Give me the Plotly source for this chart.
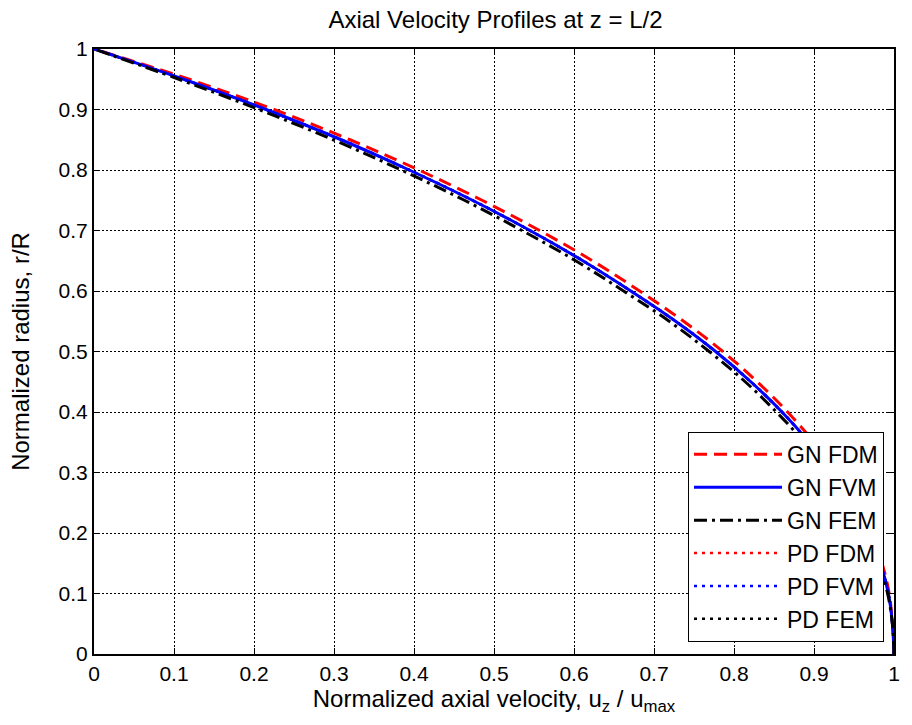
import plotly.graph_objects as go

# Normalized radius positions (r/R)
r_vals = [0.00, 0.05, 0.10, 0.15, 0.20, 0.25, 0.30, 0.35, 0.40, 0.45, 0.50,
          0.55, 0.60, 0.65, 0.70, 0.75, 0.80, 0.85, 0.90, 0.95, 1.00]

# Normalized axial velocity u_z / u_max for each solver
gn_fdm = [1.000, 0.998, 0.994, 0.985, 0.971, 0.953, 0.929, 0.900, 0.867, 0.829, 0.786,
          0.737, 0.682, 0.623, 0.557, 0.485, 0.406, 0.320, 0.225, 0.119, 0.000]
gn_fvm = [1.000, 0.998, 0.993, 0.983, 0.968, 0.949, 0.924, 0.894, 0.860, 0.821, 0.777,
          0.727, 0.671, 0.611, 0.545, 0.473, 0.394, 0.309, 0.215, 0.112, 0.000]
gn_fem = [1.000, 0.998, 0.992, 0.981, 0.965, 0.945, 0.919, 0.888, 0.853, 0.814, 0.769,
          0.719, 0.662, 0.602, 0.535, 0.463, 0.384, 0.299, 0.206, 0.106, 0.000]
pd_fdm = [1.000, 0.998, 0.993, 0.983, 0.968, 0.949, 0.924, 0.894, 0.860, 0.821, 0.777,
          0.727, 0.671, 0.611, 0.545, 0.473, 0.394, 0.309, 0.215, 0.112, 0.000]
pd_fvm = [1.000, 0.998, 0.993, 0.983, 0.968, 0.949, 0.924, 0.894, 0.860, 0.821, 0.777,
          0.727, 0.671, 0.611, 0.545, 0.473, 0.394, 0.309, 0.215, 0.112, 0.000]
pd_fem = [1.000, 0.998, 0.993, 0.983, 0.968, 0.949, 0.924, 0.894, 0.860, 0.821, 0.777,
          0.727, 0.671, 0.611, 0.545, 0.473, 0.394, 0.309, 0.215, 0.112, 0.000]

tick_vals = [0, 0.1, 0.2, 0.3, 0.4, 0.5, 0.6, 0.7, 0.8, 0.9, 1]
tick_text = ["0", "0.1", "0.2", "0.3", "0.4", "0.5", "0.6", "0.7", "0.8", "0.9", "1"]

FONT = "Liberation Sans, Arial, sans-serif"

fig = go.Figure()

# PD profiles (drawn first, underneath the GN curves)
pd_series = [
    ("PD FDM", pd_fdm, "#ff0000", 4),
    ("PD FVM", pd_fvm, "#0000ff", 5),
    ("PD FEM", pd_fem, "#000000", 6),
]
for name, u, color, rank in pd_series:
    fig.add_trace(go.Scatter(
        x=u, y=r_vals, mode="lines", name=name, legendrank=rank,
        line=dict(color=color, width=2.5, dash="3px,5px", shape="spline"),
    ))

gn_series = [
    ("GN FDM", gn_fdm, "#ff0000", "13px,7px", 1),
    ("GN FVM", gn_fvm, "#0000ff", "solid", 2),
    ("GN FEM", gn_fem, "#000000", "13px,5px,3px,5px", 3),
]
for name, u, color, dash, rank in gn_series:
    fig.add_trace(go.Scatter(
        x=u, y=r_vals, mode="lines", name=name, legendrank=rank,
        line=dict(color=color, width=3, dash=dash, shape="spline"),
    ))

axis_common = dict(
    range=[0, 1],
    tickmode="array",
    tickvals=tick_vals,
    ticktext=tick_text,
    ticks="inside",
    ticklen=6,
    tickwidth=1,
    tickcolor="black",
    showline=True,
    linewidth=2,
    linecolor="black",
    mirror="ticks",
    showgrid=True,
    gridcolor="black",
    gridwidth=1,
    griddash="2px,2px",
    zeroline=False,
    tickfont=dict(family=FONT, size=21, color="black"),
)

fig.update_layout(
    width=912,
    height=725,
    margin=dict(l=94, r=15, t=49, b=71),
    paper_bgcolor="white",
    plot_bgcolor="white",
    title=dict(
        text="Axial Velocity Profiles at z = L/2",
        x=(94 + 897) / 2 / 912,
        xanchor="center",
        y=1 - 20 / 725,
        yanchor="middle",
        font=dict(family=FONT, size=24, color="black"),
    ),
    xaxis=dict(
        **axis_common,
        title=dict(
            text="Normalized axial velocity, u<sub>z</sub> / u<sub>max</sub>",
            font=dict(family=FONT, size=24, color="black"),
            standoff=4,
        ),
    ),
    yaxis=dict(
        **axis_common,
        title=dict(
            text="Normalized radius, r/R",
            font=dict(family=FONT, size=24, color="black"),
            standoff=22,
        ),
    ),
    legend=dict(
        x=0.9875,
        y=0.02,
        xanchor="right",
        yanchor="bottom",
        bgcolor="white",
        bordercolor="black",
        borderwidth=1,
        itemwidth=88,
        font=dict(family=FONT, size=23, color="black"),
        traceorder="normal",
    ),
    showlegend=True,
)

fig.write_html("out.html")
